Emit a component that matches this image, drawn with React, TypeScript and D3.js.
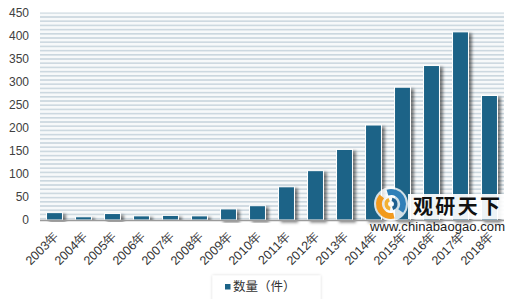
import React from 'react';
import * as d3 from 'd3';

const categories = ['2003年','2004年','2005年','2006年','2007年','2008年','2009年','2010年','2011年','2012年','2013年','2014年','2015年','2016年','2017年','2018年'];
const values = [16, 7, 14, 9, 10, 9, 24, 31, 72, 107, 153, 206, 288, 335, 408, 270];
const yTicks = [0, 50, 100, 150, 200, 250, 300, 350, 400, 450];
const seriesName = '数量（件）';
const brandName = '观研天下';
const brandUrl = 'www.chinabaogao.com';

const W = 520, H = 299;
const plot = { left: 40, right: 504, top: 12.5, bottom: 220 };
const barColor = '#1c6387';
const font = '"Liberation Sans", Arial, sans-serif';

export default function App() {
  const x = d3.scaleBand<string>().domain(categories).range([plot.left, plot.right]).paddingInner(0.45).paddingOuter(0.225);
  const y = d3.scaleLinear().domain([0, 450]).range([plot.bottom, plot.top]);
  const arc = d3.arc();
  const lc = { x: 391, y: 204 };
  const bluePath = arc({ innerRadius: 9, outerRadius: 15, startAngle: -0.3, endAngle: 2.2 }) as string;
  const orangePath = arc({ innerRadius: 9, outerRadius: 15, startAngle: 2.9, endAngle: 5.4 }) as string;
  const inner1 = arc({ innerRadius: 3, outerRadius: 6.5, startAngle: 0.2, endAngle: 2.8 }) as string;
  const inner2 = arc({ innerRadius: 3, outerRadius: 6.5, startAngle: 3.3, endAngle: 5.9 }) as string;
  return (
    <svg width={W} height={H} style={{ position: 'absolute', left: 0, top: 0 }} xmlns="http://www.w3.org/2000/svg">
      <defs>
        <pattern id="stripes" patternUnits="userSpaceOnUse" x={0} y={plot.top - 0.5} width={10} height={4.2}>
          <rect x={0} y={0} width={10} height={4.2} fill="#f7f9fa" />
          <rect x={0} y={0} width={10} height={1.6} fill="#cbd7df" />
        </pattern>
        <filter id="shadow" x="-30%" y="-10%" width="180%" height="130%">
          <feDropShadow dx={3} dy={2} stdDeviation={1.6} floodColor="#000" floodOpacity={0.5} />
        </filter>
        <filter id="legShadow" x="-10%" y="-30%" width="120%" height="160%">
          <feDropShadow dx={0} dy={0} stdDeviation={1.5} floodColor="#000" floodOpacity={0.18} />
        </filter>
      </defs>
      <rect x={0} y={0} width={W} height={H} fill="#ffffff" />
      <rect x={plot.left} y={plot.top} width={plot.right - plot.left} height={plot.bottom - plot.top} fill="url(#stripes)" />
      {values.map((v, i) => (
        <rect key={categories[i]} x={x(categories[i])!} y={y(v)} width={x.bandwidth()} height={y(0) - y(v)}
          fill={barColor} stroke="#ffffff" strokeWidth={1} filter="url(#shadow)" />
      ))}
      <line x1={plot.left} x2={plot.right} y1={y(0) + 0.5} y2={y(0) + 0.5} stroke="#9a9a9a" strokeWidth={1.5} />
      {yTicks.map(t => (
        <text key={t} x={29} y={y(t)} dy="0.36em" textAnchor="end" fontFamily={font} fontSize={12} fill="#404040">{t}</text>
      ))}
      {categories.map(c => {
        const cx = x(c)! + x.bandwidth() / 2 + 5;
        const cy = 237;
        return (
          <text key={c} x={cx} y={cy} textAnchor="end" fontFamily={font} fontSize={12.5} fill="#333"
            transform={`rotate(-45 ${cx} ${cy})`}>{c}</text>
        );
      })}
      {/* watermark */}
      <rect x={408} y={194} width={96} height={25} fill="#ffffff" opacity={0.92} />
      <circle cx={lc.x} cy={lc.y} r={17} fill="#ffffff" opacity={0.8} />
      <g transform={`translate(${lc.x},${lc.y})`}>
        <path d={bluePath} fill="#2f7fb8" />
        <path d={orangePath} fill="#f29a1d" />
        <path d={inner1} fill="#1f5f8f" />
        <path d={inner2} fill="#f2b134" />
      </g>
      <text x={413} y={214} fontFamily='"Noto Sans CJK SC", sans-serif' fontWeight={700} fontSize={20} fill="#111" textLength={87}>{brandName}</text>
      <text x={370} y={231} fontFamily={font} fontSize={13} fill="#222" textLength={135}>{brandUrl}</text>
      {/* legend */}
      <rect x={212.5} y={275.5} width={108} height={30} fill="#ffffff" filter="url(#legShadow)" />
      <rect x={225} y={284} width={5.5} height={5.5} fill={barColor} />
      <text x={233} y={291} fontFamily='"Noto Sans CJK SC", sans-serif' fontSize={12.5} fill="#333">{seriesName}</text>
    </svg>
  );
}
